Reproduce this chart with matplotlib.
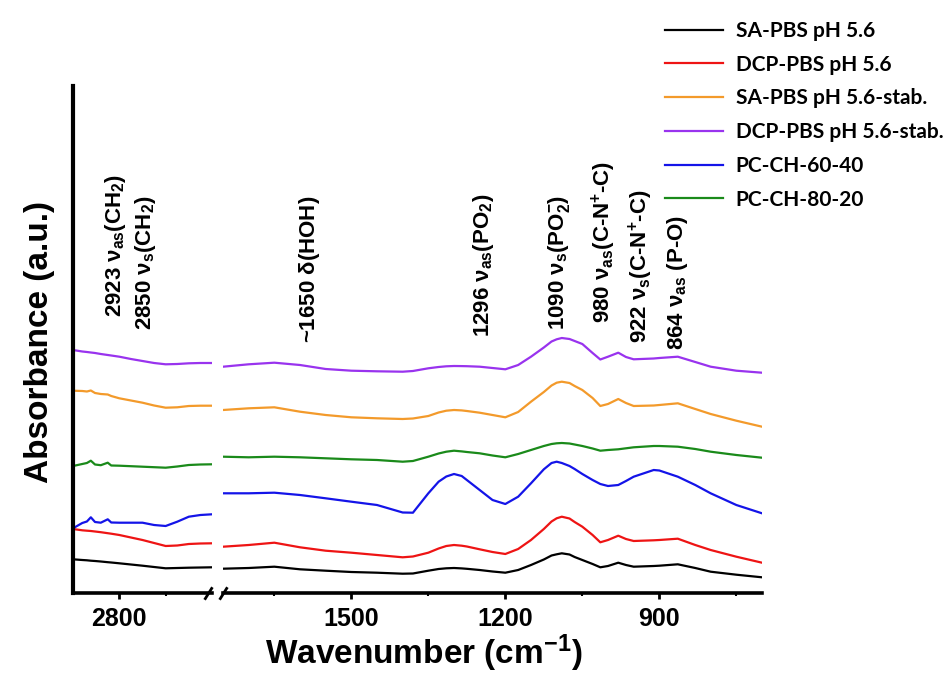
import numpy as np
import matplotlib
matplotlib.use("Agg")
import matplotlib.pyplot as plt

plt.rcParams["font.family"] = ["Liberation Sans", "DejaVu Sans"]
plt.rcParams["font.weight"] = "bold"
plt.rcParams["mathtext.fontset"] = "custom"
plt.rcParams["mathtext.rm"] = "Liberation Sans"
plt.rcParams["mathtext.it"] = "Liberation Sans"
plt.rcParams["mathtext.bf"] = "Liberation Sans:bold"

# spectra, offset in plot units (stacked)
labels = ["SA-PBS pH 5.6", "DCP-PBS pH 5.6", "SA-PBS pH 5.6-stab.",
          "DCP-PBS pH 5.6-stab.", "PC-CH-60-40", "PC-CH-80-20"]
colors = ["#000000", "#ee1414", "#f39a2b", "#9933ee", "#1414e8", "#1a8a1a"]

# high wavenumber part (CH2 stretch region)
wn_hi = [3000, 2960, 2940, 2923, 2905, 2880, 2850, 2835, 2800, 2750, 2700,
         2650, 2600, 2550, 2500, 2450, 2400]
sa_hi = [33.7, 33.0, 32.7, 32.3, 32.0, 31.5, 30.8, 30.5, 29.7, 28.5, 27.3,
         26.0, 24.7, 25.0, 25.3, 25.5, 25.7]
dcp_hi = [64.0, 62.7, 62.3, 62.0, 61.5, 60.8, 59.8, 59.3, 58.0, 55.5, 53.0,
          50.0, 47.0, 47.5, 49.0, 49.5, 49.7]
sa_stab_hi = [202.3, 202.0, 201.5, 202.5, 200.0, 199.0, 198.5, 197.0, 194.7,
              192.5, 190.3, 187.5, 185.3, 185.7, 187.0, 187.3, 187.3]
dcp_stab_hi = [243.0, 241.5, 241.0, 240.5, 240.0, 239.0, 238.0, 237.5, 236.3,
               234.0, 232.0, 230.0, 228.7, 229.0, 229.7, 230.0, 230.0]
pc6040_hi = [64.7, 70.0, 71.5, 75.7, 71.0, 70.3, 73.7, 70.5, 70.3, 70.3, 70.3,
             68.0, 67.0, 71.3, 76.3, 78.0, 78.7]
pc8020_hi = [127.0, 129.0, 130.0, 132.3, 128.5, 127.8, 130.3, 127.5, 127.3,
             126.8, 126.3, 125.8, 125.3, 126.5, 128.0, 128.5, 128.7]

# fingerprint part
wn_lo = [1750, 1700, 1650, 1600, 1550, 1500, 1450, 1400, 1380, 1350, 1330,
         1315, 1300, 1285, 1275, 1250, 1225, 1200, 1175, 1150, 1125, 1110,
         1100, 1090, 1075, 1065, 1050, 1030, 1015, 1000, 980, 965, 950, 911,
         900, 864, 830, 800, 750, 700]
sa_lo = [24.3, 25.0, 26.3, 23.7, 22.3, 21.0, 20.3, 19.3, 19.5, 22.3, 24.0,
         24.7, 25.0, 24.6, 24.2, 23.0, 21.5, 20.3, 23.0, 28.0, 33.5, 37.5,
         38.7, 39.7, 38.5, 36.0, 33.0, 29.0, 25.7, 27.0, 30.3, 28.0, 26.3,
         27.0, 27.3, 28.7, 25.0, 21.3, 18.3, 15.7]
dcp_lo = [46.3, 48.0, 50.3, 45.7, 42.3, 40.3, 38.0, 35.7, 36.5, 40.3, 44.5,
          47.0, 48.0, 47.3, 46.5, 43.7, 41.0, 39.0, 44.0, 53.0, 64.0, 71.5,
          74.7, 76.3, 74.5, 71.0, 66.3, 58.0, 50.7, 53.0, 57.3, 54.0, 52.0,
          52.7, 53.0, 54.3, 48.0, 43.0, 36.3, 30.3]
sa_stab_lo = [183.0, 184.7, 185.7, 181.3, 178.0, 175.7, 174.7, 174.0, 174.5,
              177.0, 180.5, 182.3, 183.0, 182.6, 182.0, 180.3, 178.0, 175.7,
              181.0, 191.3, 201.0, 207.5, 210.3, 211.3, 210.0, 207.0, 203.0,
              195.0, 187.0, 189.0, 194.0, 190.0, 187.0, 187.5, 188.0, 189.7,
              184.0, 179.0, 172.3, 166.3]
dcp_stab_lo = [226.3, 228.7, 230.3, 228.0, 224.0, 222.3, 221.7, 221.3, 222.0,
               224.7, 226.0, 226.7, 227.0, 226.9, 226.8, 226.3, 225.0, 223.7,
               228.0, 236.3, 245.5, 251.5, 253.7, 255.0, 254.0, 252.0, 249.0,
               240.0, 233.5, 236.3, 240.3, 236.0, 233.7, 234.5, 235.0, 236.3,
               231.0, 226.3, 222.3, 220.3]
pc6040_lo = [99.7, 99.7, 100.3, 98.0, 94.7, 91.3, 88.0, 80.5, 80.3, 99.7,
             111.3, 116.5, 119.0, 117.0, 113.0, 103.0, 93.0, 89.0, 96.3, 109.7,
             123.7, 130.0, 131.3, 130.0, 127.0, 124.0, 119.0, 113.0, 109.0,
             107.0, 108.0, 112.0, 116.3, 123.0, 122.5, 116.3, 108.0, 99.7,
             88.0, 79.7]
pc8020_lo = [136.3, 135.7, 136.3, 135.7, 134.7, 133.7, 133.0, 131.3, 132.0,
             136.3, 139.5, 141.3, 142.3, 141.6, 141.0, 139.7, 137.5, 135.7,
             139.0, 143.0, 147.0, 149.0, 149.7, 150.0, 149.5, 148.5, 147.0,
             144.5, 142.3, 143.0, 143.7, 144.7, 145.7, 147.0, 147.0, 146.3,
             144.0, 141.3, 138.0, 135.3]

hi_series = [sa_hi, dcp_hi, sa_stab_hi, dcp_stab_hi, pc6040_hi, pc8020_hi]
lo_series = [sa_lo, dcp_lo, sa_stab_lo, dcp_stab_lo, pc6040_lo, pc8020_lo]

band_texts = [r"2923 $\nu_{\mathbf{as}}$(CH$_\mathbf{2}$)",
              r"2850 $\nu_{\mathbf{s}}$(CH$_\mathbf{2}$)",
              r"~1650 $\delta$(HOH)",
              r"1296 $\nu_{\mathbf{as}}$(PO$_\mathbf{2}$)",
              r"1090 $\nu_{\mathbf{s}}$(PO$_\mathbf{2}^{-}$)",
              r"980 $\nu_{\mathbf{as}}$(C-N$^{\mathbf{+}}$-C)",
              r"922 $\nu_{\mathbf{s}}$(C-N$^{\mathbf{+}}$-C)",
              r"864 $\nu_{\mathbf{as}}$ (P-O)"]
# (x px, bottom y px) of each rotated label
band_pos = [(116, 317), (146, 330), (310, 343), (484, 337), (559, 330),
            (604, 323), (641, 343), (678, 350)]

W, H = 948, 673
fig = plt.figure(figsize=(W / 100, H / 100), dpi=100)
ax1 = fig.add_axes([73 / W, 80 / H, 139 / W, 507 / H])
ax2 = fig.add_axes([223 / W, 80 / H, 539 / W, 507 / H])

handles = []
for ys, c in zip(hi_series, colors):
    ax1.plot(wn_hi, ys, color=c, lw=1.6)
for ys, c, lab in zip(lo_series, colors, labels):
    h, = ax2.plot(wn_lo, ys, color=c, lw=1.6, label=lab)
    handles.append(h)

ax1.set_xlim(3000, 2400)
ax2.set_xlim(1750, 700)
for ax in (ax1, ax2):
    ax.set_ylim(0, 507)
    ax.set_yticks([])
    ax.spines["top"].set_visible(False)
    ax.spines["right"].set_visible(False)
    ax.spines["bottom"].set_linewidth(2.6)
    ax.tick_params(axis="x", which="major", length=4, width=2, labelsize=18,
                   pad=6)
    ax.tick_params(axis="x", which="minor", length=2.5, width=1.5)
ax1.spines["left"].set_linewidth(3)
ax2.spines["left"].set_visible(False)

ax1.set_xticks([2800])
ax1.set_xticks([2600], minor=True)
ax2.set_xticks([1500, 1200, 900])
ax2.set_xticks([1650, 1350, 1050, 750], minor=True)
for ax in (ax1, ax2):
    for t in ax.get_xticklabels():
        t.set_fontweight("bold")

# break marks
kw = dict(marker=[(-1, -1.6), (1, 1.6)], markersize=9, linestyle="none",
          color="k", mec="k", mew=2, clip_on=False)
ax1.plot([0.97], [0], transform=ax1.transAxes, **kw)
ax2.plot([0.0], [0], transform=ax2.transAxes, **kw)

for txt, (px, py) in zip(band_texts, band_pos):
    fig.text(px / W, 1 - py / H, txt, rotation=90, ha="center", va="bottom",
             fontsize=16, fontweight="bold")

fig.text(424 / W, 1 - 653 / H, r"Wavenumber (cm$^{\mathbf{-1}}$)",
         ha="center", va="center", fontsize=24, fontweight="bold")
fig.text(40 / W, 1 - 342 / H, "Absorbance (a.u.)", rotation=90,
         ha="center", va="center", fontsize=24, fontweight="bold")

leg = fig.legend(handles, labels, loc="upper left",
                 bbox_to_anchor=(665 / W, 1 - 21 / H), frameon=False,
                 handlelength=2.8, handletextpad=0.6, labelspacing=0.66,
                 borderaxespad=0, borderpad=0,
                 prop={"family": "Lato", "weight": "bold", "size": 15})

fig.savefig("out.png", dpi=100)
